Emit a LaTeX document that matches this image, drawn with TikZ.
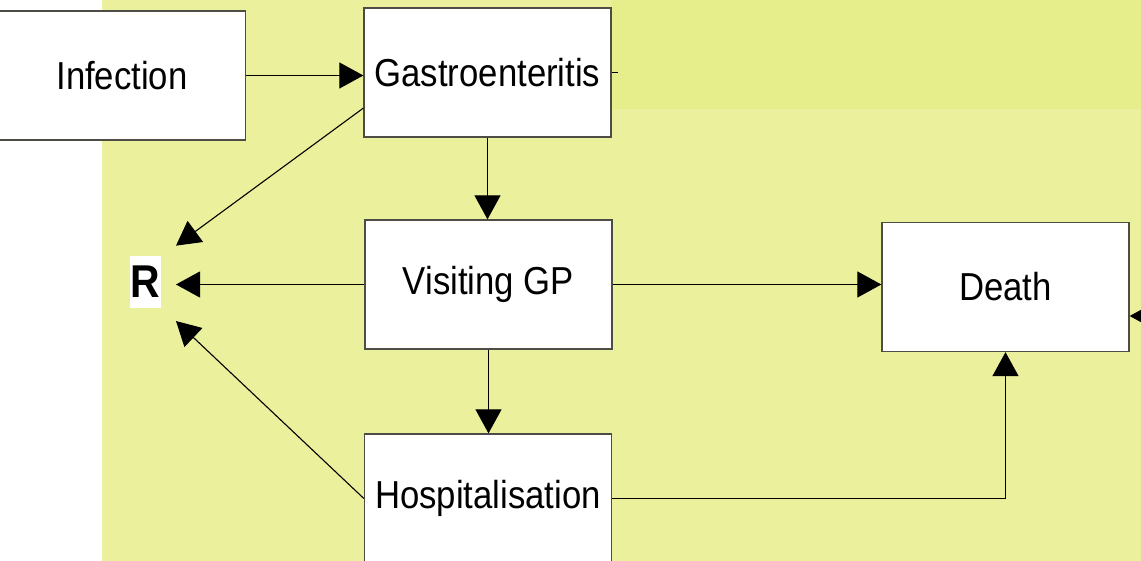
\documentclass[tikz,border=0pt]{standalone}
\usepackage{fontspec}
\setmainfont[FakeStretch=0.89]{Liberation Sans}
\usetikzlibrary{arrows.meta}
\definecolor{bgyellow}{HTML}{EBF09C}
\definecolor{topyellow}{HTML}{E6ED8B}
\definecolor{boxline}{HTML}{4D4D45}

\begin{document}
\begin{tikzpicture}[x=1pt,y=-1pt,
  box/.style={draw=boxline,line width=1.3pt,fill=white,minimum width=247pt,minimum height=129pt,inner sep=0pt,font=\fontsize{39}{45}\selectfont},
  flow/.style={line width=1.1pt,-{Triangle[length=24pt,width=26pt]}}]
\useasboundingbox (0,0) rectangle (1141,561);
\clip (0,0) rectangle (1141,561);
\fill[bgyellow] (102,0) rectangle (1141,561);
\fill[topyellow] (611,0) rectangle (1141,109);

\foreach \x/\y/\nm/\lab in {
122/75.5/inf/Infection,
487.5/72.5/gastro/Gastroenteritis,
488.5/284.5/gp/Visiting GP,
488/498.5/hosp/Hospitalisation,
1005.5/287/death/Death}
{
    \node[box] (\nm) at (\x,\y) {\lab};
}

\node[fill=white,inner sep=0pt,minimum width=31pt,minimum height=52pt,outer sep=15pt,
  font=\fontsize{46}{50}\selectfont\bfseries] (R) at (145.5,282) {R};

\coordinate (offright) at (1175,316);
\coordinate (stub) at (618,72.5);

\draw[flow] (inf.east) -- (inf.east -| gastro.west);
\draw[flow] (gastro.south) -- (gastro.south |- gp.north);
\draw[flow] (gp.south) -- (gp.south |- hosp.north);
\draw[flow] (gp.east) -- (gp.east -| death.west);
\draw[flow] (hosp.east) -| (death.south);
\draw[flow] (offright) -- (offright -| death.east);
\draw[line width=1.1pt] (gastro.east) -- (stub);

% recovery
\draw[flow] (gastro.196) -- (R.50);
\draw[flow] (gp.west) -- (gp.west -| R.east);
\draw[flow] (hosp.west) -- (R.-52);
\end{tikzpicture}
\end{document}
